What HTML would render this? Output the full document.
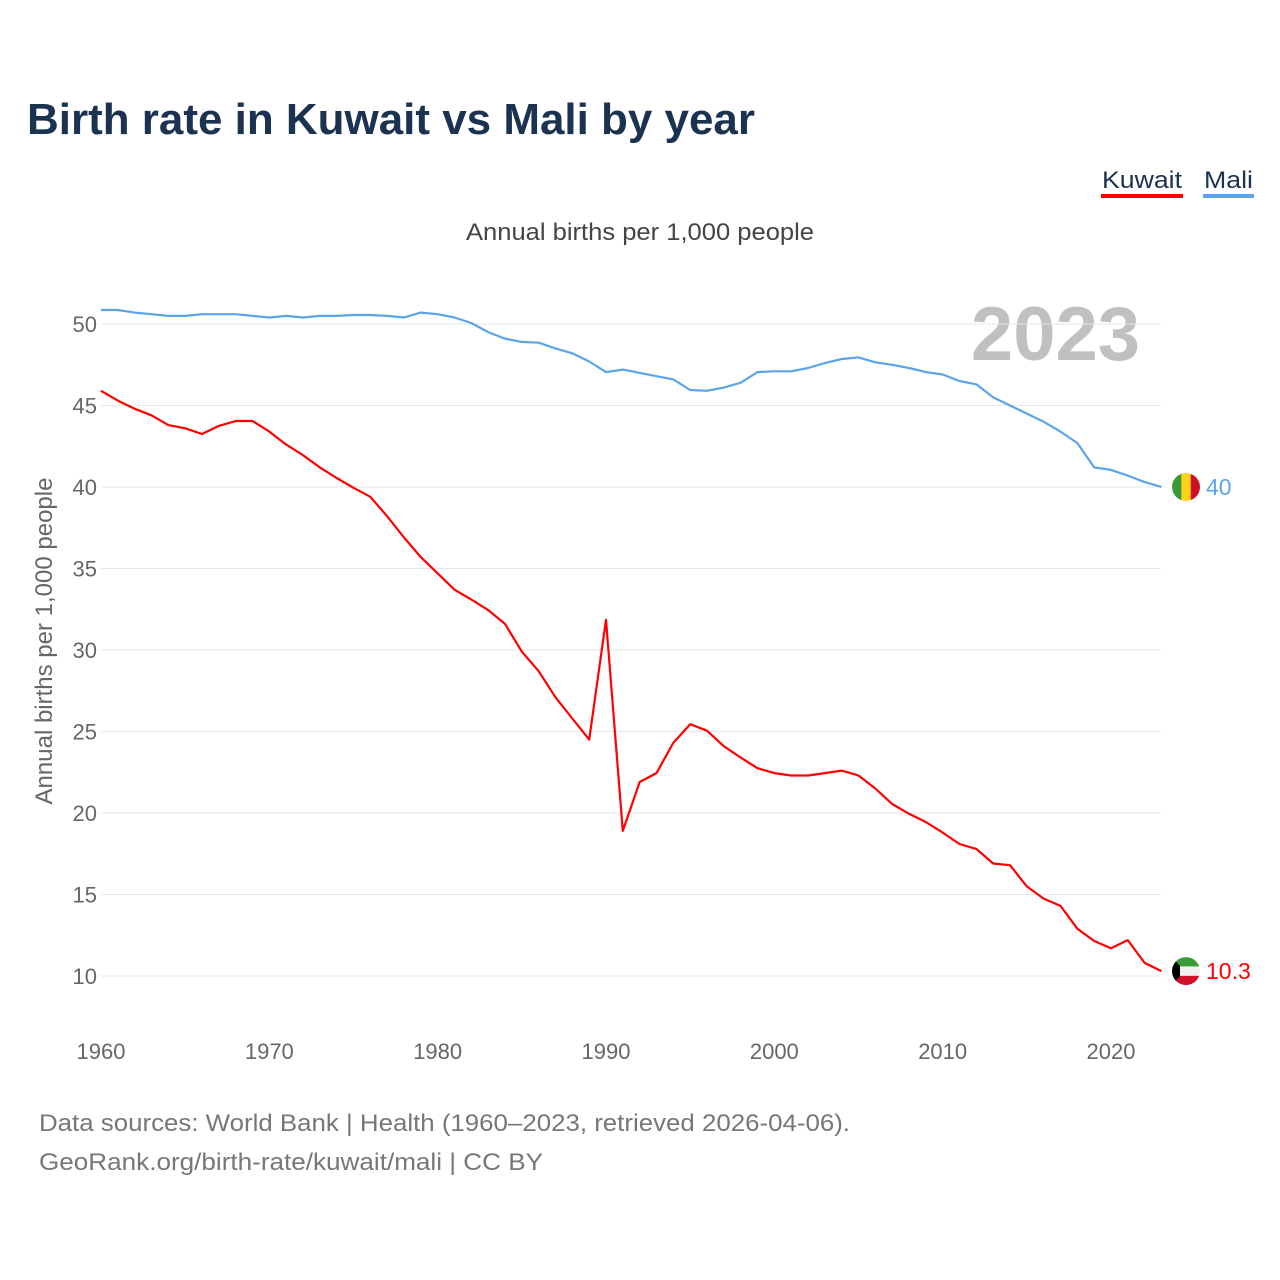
<!DOCTYPE html>
<html><head><meta charset="utf-8">
<style>
html,body{margin:0;padding:0;background:#fff;}
body{width:1280px;height:1280px;position:relative;font-family:"Liberation Sans",sans-serif;overflow:hidden;}
</style></head>
<body>
<svg id="chart" width="1280" height="1280" xmlns="http://www.w3.org/2000/svg" style="position:absolute;left:0;top:0">
<text x="27" y="134" font-size="44" font-weight="bold" fill="#1b3250" textLength="728" lengthAdjust="spacingAndGlyphs">Birth rate in Kuwait vs Mali by year</text>
<g>
<text x="1102" y="188" font-size="24" fill="#1b3250" textLength="80" lengthAdjust="spacingAndGlyphs">Kuwait</text>
<rect x="1101" y="194" width="82" height="4" fill="#ff0000"/>
</g>
<g>
<text x="1204" y="188" font-size="24" fill="#1b3250" textLength="49" lengthAdjust="spacingAndGlyphs">Mali</text>
<rect x="1203" y="194" width="51" height="4" fill="#5ba4ea"/>
</g>
<text x="466" y="240" font-size="24" fill="#444" textLength="348" lengthAdjust="spacingAndGlyphs">Annual births per 1,000 people</text>
<text transform="translate(52,641) rotate(-90)" text-anchor="middle" font-size="24" fill="#666">Annual births per 1,000 people</text>
<text x="1140" y="360" text-anchor="end" font-size="76" font-weight="bold" fill="#c0c0c0">2023</text>
<g id="grid"></g><g id="yticks"></g><g id="xticks"></g><g id="lines"></g><g id="ends"></g>
<text x="39" y="1131" font-size="24" fill="#777" textLength="811" lengthAdjust="spacingAndGlyphs">Data sources: World Bank | Health (1960–2023, retrieved 2026-04-06).</text>
<text x="39" y="1170" font-size="24" fill="#777" textLength="504" lengthAdjust="spacingAndGlyphs">GeoRank.org/birth-rate/kuwait/mali | CC BY</text>
</svg>
<script>
const years = [];
for (let y = 1960; y <= 2023; y++) years.push(y);
const mali = [50.86,50.86,50.7,50.6,50.5,50.5,50.6,50.6,50.6,50.5,50.4,50.5,50.4,50.5,50.5,50.55,50.55,50.5,50.4,50.7,50.6,50.4,50.06,49.5,49.1,48.9,48.85,48.5,48.2,47.7,47.05,47.2,47.0,46.8,46.6,45.95,45.9,46.1,46.4,47.05,47.1,47.1,47.3,47.6,47.85,47.95,47.65,47.5,47.3,47.05,46.9,46.5,46.3,45.5,45.0,44.5,44.0,43.4,42.7,41.2,41.05,40.7,40.3,40.0];
const kuwait = [45.9,45.3,44.8,44.4,43.8,43.6,43.25,43.75,44.05,44.05,43.4,42.6,41.95,41.2,40.55,39.95,39.4,38.2,36.9,35.7,34.7,33.7,33.1,32.45,31.6,29.9,28.7,27.1,25.8,24.5,31.85,18.9,21.9,22.45,24.3,25.45,25.05,24.1,23.4,22.75,22.45,22.3,22.3,22.45,22.6,22.3,21.5,20.55,19.95,19.45,18.8,18.1,17.8,16.9,16.8,15.5,14.75,14.3,12.9,12.15,11.7,12.2,10.8,10.3];
const yTicks = [10,15,20,25,30,35,40,45,50];
const xTicks = [1960,1970,1980,1990,2000,2010,2020];
const NS = "http://www.w3.org/2000/svg";
const X = v => 101 + (v - 1960) * (1010 / 60);
const Y = v => 976 - (v - 10) * (652 / 40);
function mk(tag, attrs, parent, txt) {
  const e = document.createElementNS(NS, tag);
  for (const k in attrs) e.setAttribute(k, attrs[k]);
  if (txt !== undefined) e.textContent = txt;
  document.getElementById(parent).appendChild(e);
  return e;
}
yTicks.forEach(t => {
  const g = mk("line", {x1: 101, x2: 1161, y1: Y(t), y2: Y(t), stroke: "#e6e6e6", "stroke-width": 1}, "grid");
  
  
  const l = mk("text", {x: 97, y: Y(t) + 8, "text-anchor": "end", "font-size": 22, fill: "#666"}, "yticks", String(t));
  
  
});
xTicks.forEach(t => {
  const l = mk("text", {x: X(t), y: 1059, "text-anchor": "middle", "font-size": 22, fill: "#666"}, "xticks", String(t));
  
  
});
function series(vals, color, name) {
  const d = vals.map((v, i) => (i ? "L" : "M") + X(years[i]).toFixed(1) + "," + Y(v).toFixed(1)).join("");
  const p = mk("path", {d: d, fill: "none", stroke: color, "stroke-width": 2.2, "stroke-linejoin": "round"}, "lines");
  
  
}
series(mali, "#5ba4ea", "mali");
series(kuwait, "#ff0000", "kuwait");
const ends = document.getElementById("ends");
const last = years.length - 1;
const cx = 1186;
const my = Y(mali[last]);
ends.insertAdjacentHTML("beforeend",
 `<g><clipPath id="cm"><circle cx="${cx}" cy="${my}" r="14"/></clipPath><g clip-path="url(#cm)"><rect x="${cx-14}" y="${my-14}" width="10" height="28" fill="#3a9a3a"/><rect x="${cx-4.7}" y="${my-14}" width="9.4" height="28" fill="#fcd116"/><rect x="${cx+4.7}" y="${my-14}" width="10" height="28" fill="#ce1126"/></g></g>`);
const ml = mk("text", {x: 1206, y: my + 8, "font-size": 23, fill: "#5ba4ea"}, "ends", String(mali[last]));


const ky = Y(kuwait[last]);
ends.insertAdjacentHTML("beforeend",
 `<g><clipPath id="ck"><circle cx="${cx}" cy="${ky}" r="14"/></clipPath><g clip-path="url(#ck)"><rect x="${cx-14}" y="${ky-14}" width="28" height="9.4" fill="#3a9a3a"/><rect x="${cx-14}" y="${ky-4.7}" width="28" height="9.4" fill="#f0f0f0"/><rect x="${cx-14}" y="${ky+4.7}" width="28" height="10" fill="#ce1126"/><polygon points="${cx-14},${ky-14} ${cx-6},${ky-5} ${cx-6},${ky+5} ${cx-14},${ky+14}" fill="#000"/></g></g>`);
const kl = mk("text", {x: 1206, y: ky + 8, "font-size": 23, fill: "#ff0000"}, "ends", String(kuwait[last]));


</script>
</body></html>
